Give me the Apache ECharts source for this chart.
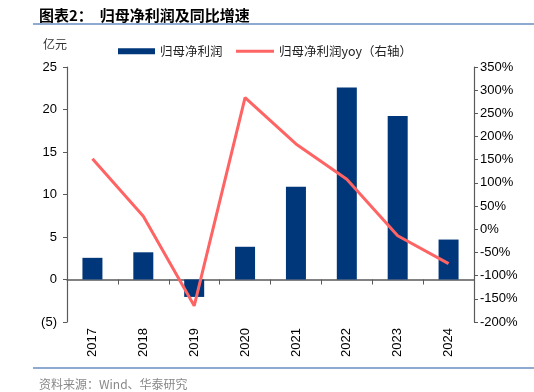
<!DOCTYPE html>
<html><head><meta charset="utf-8">
<script src="https://cdn.jsdelivr.net/npm/echarts@6/dist/echarts.min.js"></script>
<style>html,body{margin:0;padding:0;background:#fff}#c{width:534px;height:392px}</style>
</head><body><div id="c"></div>
<script>
const categories = ['2017','2018','2019','2020','2021','2022','2023','2024'];
const profit = [2.55, 3.2, -2.05, 3.85, 10.9, 22.6, 19.25, 4.7];
const yoy = [152, 28, -165, 284, 184, 108, -14, -74];
const leftTicks = [-5, 25, 5];
const rightTicks = [-200, 350, 50];

const chart = echarts.init(document.getElementById('c'));
const axisColor = '#5a5a5a';
const font = 'Liberation Sans, Arial, sans-serif';
const cjk = '"Noto Sans CJK SC", sans-serif';
const legText = {fontFamily: cjk, fontSize: 12.5, color: '#222'};
chart.setOption({
  animation: false,
  title: [
    {text: '图表2：  归母净利润及同比增速', left: 34, top: 3,
     textStyle: {fontFamily: cjk, fontSize: 15, fontWeight: 'bold', color: '#000'}},
    {text: '亿元', left: 38, top: 33, textStyle: {fontFamily: cjk, fontSize: 12, fontWeight: 'normal', color: '#333'}},
    {text: '资料来源：Wind、华泰研究', left: 34, top: 373, textStyle: {fontFamily: cjk, fontSize: 12, fontWeight: 'normal', color: '#888'}}
  ],
  graphic: [
    {type: 'line', shape: {x1: 33, y1: 24, x2: 534, y2: 24}, style: {stroke: '#6a8ec2', lineWidth: 1.5}},
    {type: 'line', shape: {x1: 33, y1: 368, x2: 534, y2: 368}, style: {stroke: '#6a8ec2', lineWidth: 1.5}}
  ],
  legend: [
    {left: 113, top: 40, itemWidth: 37, itemHeight: 6, textStyle: legText,
     data: [{name: '归母净利润', icon: 'rect'}]},
    {left: 231, top: 40, itemWidth: 38, itemHeight: 3, textStyle: legText,
     data: [{name: '归母净利润yoy（右轴）', icon: 'rect'}]}
  ],
  grid: {left: 67, right: 60, top: 67, bottom: 70},
  xAxis: [
    {type: 'category', data: categories, position: 'bottom',
     axisLine: {show: false, onZero: false}, axisTick: {show: false},
     axisLabel: {rotate: 90, fontFamily: font, fontSize: 13, color: '#000', margin: 6}},
    {type: 'category', data: categories, position: 'top',
     axisLine: {onZero: true, lineStyle: {color: axisColor, width: 1.5}},
     axisTick: {show: true, inside: true, length: 5, lineStyle: {color: axisColor}},
     axisLabel: {show: false}}
  ],
  yAxis: [
    {type: 'value', min: leftTicks[0], max: leftTicks[1], interval: leftTicks[2],
     splitLine: {show: false},
     axisLine: {show: true, lineStyle: {color: axisColor, width: 1.2}},
     axisTick: {show: true, length: 4, lineStyle: {color: axisColor}},
     axisLabel: {fontFamily: font, fontSize: 13, color: '#000', margin: 10,
       formatter: v => v < 0 ? '(' + Math.abs(v) + ')' : String(v)}},
    {type: 'value', min: rightTicks[0], max: rightTicks[1], interval: rightTicks[2],
     splitLine: {show: false}, position: 'right',
     axisLine: {show: true, lineStyle: {color: axisColor, width: 1.2}},
     axisTick: {show: true, length: 4, lineStyle: {color: axisColor}},
     axisLabel: {fontFamily: font, fontSize: 13, color: '#000', margin: 6,
       formatter: v => v + '%'}}
  ],
  series: [
    {name: '归母净利润', type: 'bar', data: profit, xAxisIndex: 0, yAxisIndex: 0,
     barWidth: 20, itemStyle: {color: '#00377a'}},
    {name: '归母净利润yoy（右轴）', type: 'line', data: yoy, xAxisIndex: 0, yAxisIndex: 1,
     symbol: 'none', lineStyle: {color: '#ff6464', width: 3}, itemStyle: {color: '#ff6464'}}
  ]
});
</script></body></html>
